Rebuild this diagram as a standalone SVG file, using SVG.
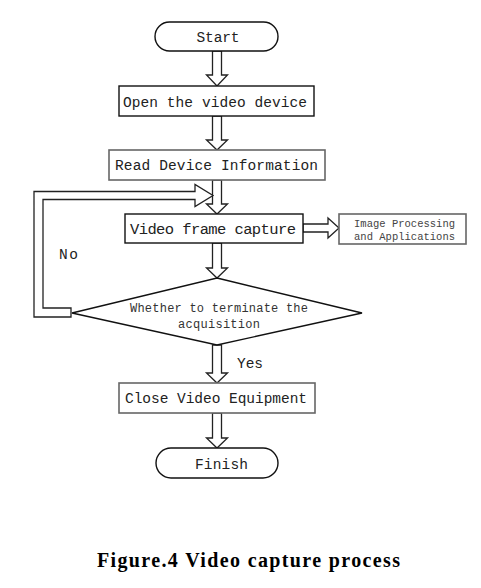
<svg xmlns="http://www.w3.org/2000/svg" width="481" height="588" viewBox="0 0 481 588">
<style>
.box{fill:#fff;stroke:#111;stroke-width:1.4}
.gbox{fill:#fff;stroke:#666;stroke-width:1.6}
.arr{fill:#fff;stroke:#222;stroke-width:1.3;stroke-linejoin:miter}
.t{font-family:"Liberation Mono","DejaVu Sans Mono",monospace;font-size:14.5px;fill:#222}
.ts{font-family:"Liberation Mono","DejaVu Sans Mono",monospace;font-size:12px;fill:#333}
.tx{font-family:"Liberation Mono","DejaVu Sans Mono",monospace;font-size:10.5px;fill:#444}
.cap{font-family:"Liberation Serif","Times New Roman",serif;font-size:20px;font-weight:bold;fill:#000}
</style>
<rect width="481" height="588" fill="#fff"/>
<g id="connectors">
<polygon class="arr" points="212.5,51 221.5,51 221.5,75 227.5,75 217,86 206.5,75 212.5,75"/>
<polygon class="arr" points="212.5,116 221.5,116 221.5,140 227.5,140 217,150 206.5,140 212.5,140"/>
<polygon class="arr" points="212.5,180 221.5,180 221.5,204 227.5,204 217,214 206.5,204 212.5,204"/>
<polygon class="arr" points="212.5,243 221.5,243 221.5,268 227.5,268 217,278 206.5,268 212.5,268"/>
<polygon class="arr" points="212.5,345 221.5,345 221.5,373 227.5,373 217,383 206.5,373 212.5,373"/>
<polygon class="arr" points="212.5,413 221.5,413 221.5,438 227.5,438 217,448 206.5,438 212.5,438"/>
<polygon class="arr" points="303,224 328,224 328,218 339,228 328,238 328,232 303,232"/>
<polygon class="arr" points="71,317 34,317 34,191.5 195,191.5 195,184.5 213,195.5 195,206.5 195,199.5 43,199.5 43,308 71,308"/>
</g>
<g id="start">
<rect class="box" x="155" y="22" width="123" height="29" rx="14.5"/>
<text class="t" x="218" y="42" text-anchor="middle" textLength="43">Start</text>
</g>
<g id="open">
<rect class="box" x="119" y="86" width="195" height="30"/>
<text class="t" x="123" y="107" textLength="184">Open the video device</text>
</g>
<g id="read">
<rect class="gbox" x="109" y="150" width="216" height="30"/>
<text class="t" x="115" y="170" textLength="203">Read Device Information</text>
</g>
<g id="capture">
<rect class="box" x="125" y="214" width="178" height="29"/>
<text class="t" x="130" y="234" textLength="166" style="font-size:15.5px">Video frame capture</text>
</g>
<g id="processing">
<rect class="gbox" x="339" y="214" width="127" height="30"/>
<text class="tx" x="354" y="227" textLength="101">Image Processing</text>
<text class="tx" x="354" y="240" textLength="101">and Applications</text>
</g>
<g id="decision">
<polygon class="box" points="217,278 362,313 217,345 72,313"/>
<text class="ts" x="130" y="312" textLength="178">Whether to terminate the</text>
<text class="ts" x="178" y="328" textLength="82">acquisition</text>
</g>
<text class="t" x="59" y="259" textLength="19">No</text>
<text class="t" x="237" y="368" textLength="26">Yes</text>
<g id="close">
<rect class="gbox" x="119" y="383" width="196" height="30"/>
<text class="t" x="125" y="403" textLength="182">Close Video Equipment</text>
</g>
<g id="finish">
<rect class="box" x="156" y="448" width="122" height="30" rx="15"/>
<text class="t" x="195" y="469" textLength="53">Finish</text>
</g>
<text class="cap" x="97" y="567" textLength="303">Figure.4 Video capture process</text>
</svg>
